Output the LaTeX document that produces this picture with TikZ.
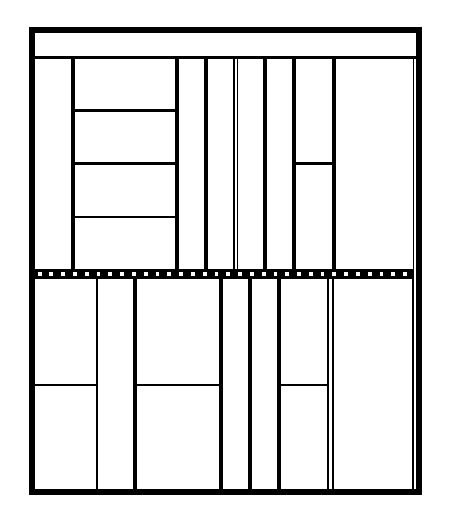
\documentclass[tikz,border=0pt]{standalone}
\usepackage{tikz}

\begin{document}
\begin{tikzpicture}[
    x=1pt, y=-1pt,
    outerwall/.style={
        line width=6pt,
        line join=miter
    },
    wall/.style={
        line width=4pt
    },
    partition/.style={
        line width=2.2pt
    },
    filmband/.style={
        line width=10pt
    },
    filmhole/.style={
        white,
        line width=4.8pt,
        dash pattern=on 3.8pt off 7.99pt
    }
]
\useasboundingbox (0,0) rectangle (448,519);

% Contorno exterior
\draw[outerwall] (32,30.5) rectangle (418.5,491.5);
\draw[partition] (32,57.5) -- (418.5,57.5);

% Bloque superior
\draw[wall] (73,57.5) -- (73,269);
\draw[wall] (177,57.5) -- (177,269);
\draw[wall] (206,57.5) -- (206,269);
\draw[partition, line width=1.8pt] (234,57.5) -- (234,269);
\draw[partition, line width=1.8pt] (237.5,57.5) -- (237.5,269);
\draw[wall] (265,57.5) -- (265,269);
\draw[wall] (294.3,57.5) -- (294.3,269);
\draw[wall] (334,57.5) -- (334,269);
\draw[partition, line width=1.8pt] (413.5,57.5) -- (413.5,269);
\draw[partition] (73,110.5) -- (177,110.5);
\draw[partition] (73,163.5) -- (177,163.5);
\draw[partition] (73,217) -- (177,217);
\draw[partition] (294.3,163.5) -- (334,163.5);

% Banda central
\draw[filmband] (32,274) -- (413.5,274);
\draw[filmhole] (37.7,274) -- (407,274);

% Bloque inferior
\draw[partition] (97,279) -- (97,491.5);
\draw[wall] (135,279) -- (135,491.5);
\draw[wall] (221,279) -- (221,491.5);
\draw[wall] (250,279) -- (250,491.5);
\draw[wall] (279,279) -- (279,491.5);
\draw[partition, line width=1.8pt] (328.2,279) -- (328.2,491.5);
\draw[partition] (333,279) -- (333,491.5);
\draw[partition] (412.8,279) -- (412.8,491.5);
\draw[partition] (32,384.7) -- (97,384.7);
\draw[partition] (135,384.7) -- (221,384.7);
\draw[partition] (279,384.7) -- (328.2,384.7);

\end{tikzpicture}
\end{document}
